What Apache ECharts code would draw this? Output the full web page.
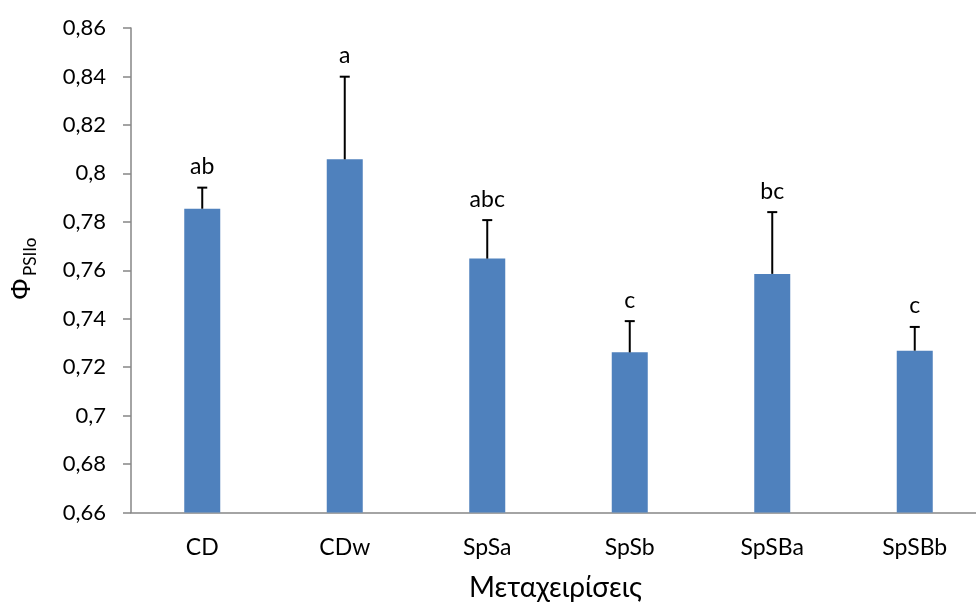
<!DOCTYPE html>
<html>
<head>
<meta charset="utf-8">
<script src="https://cdn.jsdelivr.net/npm/echarts@6/dist/echarts.min.js"></script>
<style>
  html, body { margin: 0; padding: 0; background: #fff; }
  #chart { width: 976px; height: 603px; }
</style>
</head>
<body>
<div id="chart"></div>
<script>
// Treatments and their mean Φ_PSIIo with standard error and significance letters
const categories = ['CD', 'CDw', 'SpSa', 'SpSb', 'SpSBa', 'SpSBb'];
const means = [0.7854, 0.8058, 0.7648, 0.7261, 0.7585, 0.7268];
const errors = [0.0087, 0.0341, 0.0159, 0.0129, 0.0255, 0.0098];
const letters = ['ab', 'a', 'abc', 'c', 'bc', 'c'];

const textFont = 'Lato, "Open Sans", sans-serif';
const axisGray = '#868686';

const chart = echarts.init(document.getElementById('chart'));

const errData = categories.map((c, i) => [i, means[i], errors[i]]);

chart.setOption({
  animation: false,
  backgroundColor: '#fff',
  grid: { left: 131, top: 28, width: 855, bottom: 90.5, containLabel: false, outerBoundsMode: 'none' },
  xAxis: {
    type: 'category',
    data: categories,
    axisLine: { lineStyle: { color: axisGray, width: 1.5 } },
    axisTick: { show: false },
    axisLabel: { color: '#000', fontSize: 23, fontFamily: textFont, margin: 24 },
    name: 'Μεταχειρίσεις',
    nameLocation: 'middle',
    nameGap: 61,
    nameTextStyle: { color: '#000', fontSize: 28, fontFamily: textFont, padding: [0, 6, 0, 0] }
  },
  yAxis: {
    type: 'value',
    min: 0.66,
    max: 0.86,
    interval: 0.02,
    splitLine: { show: false },
    axisLine: { show: true, lineStyle: { color: axisGray, width: 1.5 } },
    axisTick: { show: true, inside: false, length: 8, lineStyle: { color: axisGray, width: 1.5 } },
    axisLabel: {
      color: '#000', fontSize: 22, fontFamily: textFont, margin: 25,
      formatter: v => String(parseFloat(v.toFixed(2))).replace('.', ',')
    }
  },
  series: [
    {
      type: 'bar',
      data: means,
      barWidth: 36,
      itemStyle: { color: '#4F81BD' }
    },
    {
      type: 'custom',
      data: errData,
      z: 10,
      renderItem: function (params, api) {
        const i = api.value(0);
        const m = api.value(1);
        const e = api.value(2);
        const base = api.coord([i, m]);
        const top = api.coord([i, m + e]);
        const half = 5;
        return {
          type: 'group',
          children: [
            { type: 'line', shape: { x1: base[0], y1: base[1], x2: top[0], y2: top[1] },
              style: { stroke: '#000', lineWidth: 2 } },
            { type: 'line', shape: { x1: top[0] - half, y1: top[1], x2: top[0] + half, y2: top[1] },
              style: { stroke: '#000', lineWidth: 2 } },
            { type: 'text', x: top[0], y: top[1] - 21,
              style: { text: letters[i], fill: '#000', font: '23px ' + textFont, align: 'center', verticalAlign: 'middle' } }
          ]
        };
      }
    }
  ],
  graphic: [
    {
      type: 'group',
      x: 22,
      y: 289,
      rotation: Math.PI / 2,
      children: [
        { type: 'text', x: 0, y: 0,
          style: { text: 'Φ', fill: '#000', font: '28px "Liberation Sans", Arial, sans-serif', align: 'center', verticalAlign: 'middle' } },
        { type: 'text', x: 13, y: 9,
          style: { text: 'PSIIo', fill: '#000', font: '17px ' + textFont, align: 'left', verticalAlign: 'middle' } }
      ]
    }
  ]
});
</script>
</body>
</html>
